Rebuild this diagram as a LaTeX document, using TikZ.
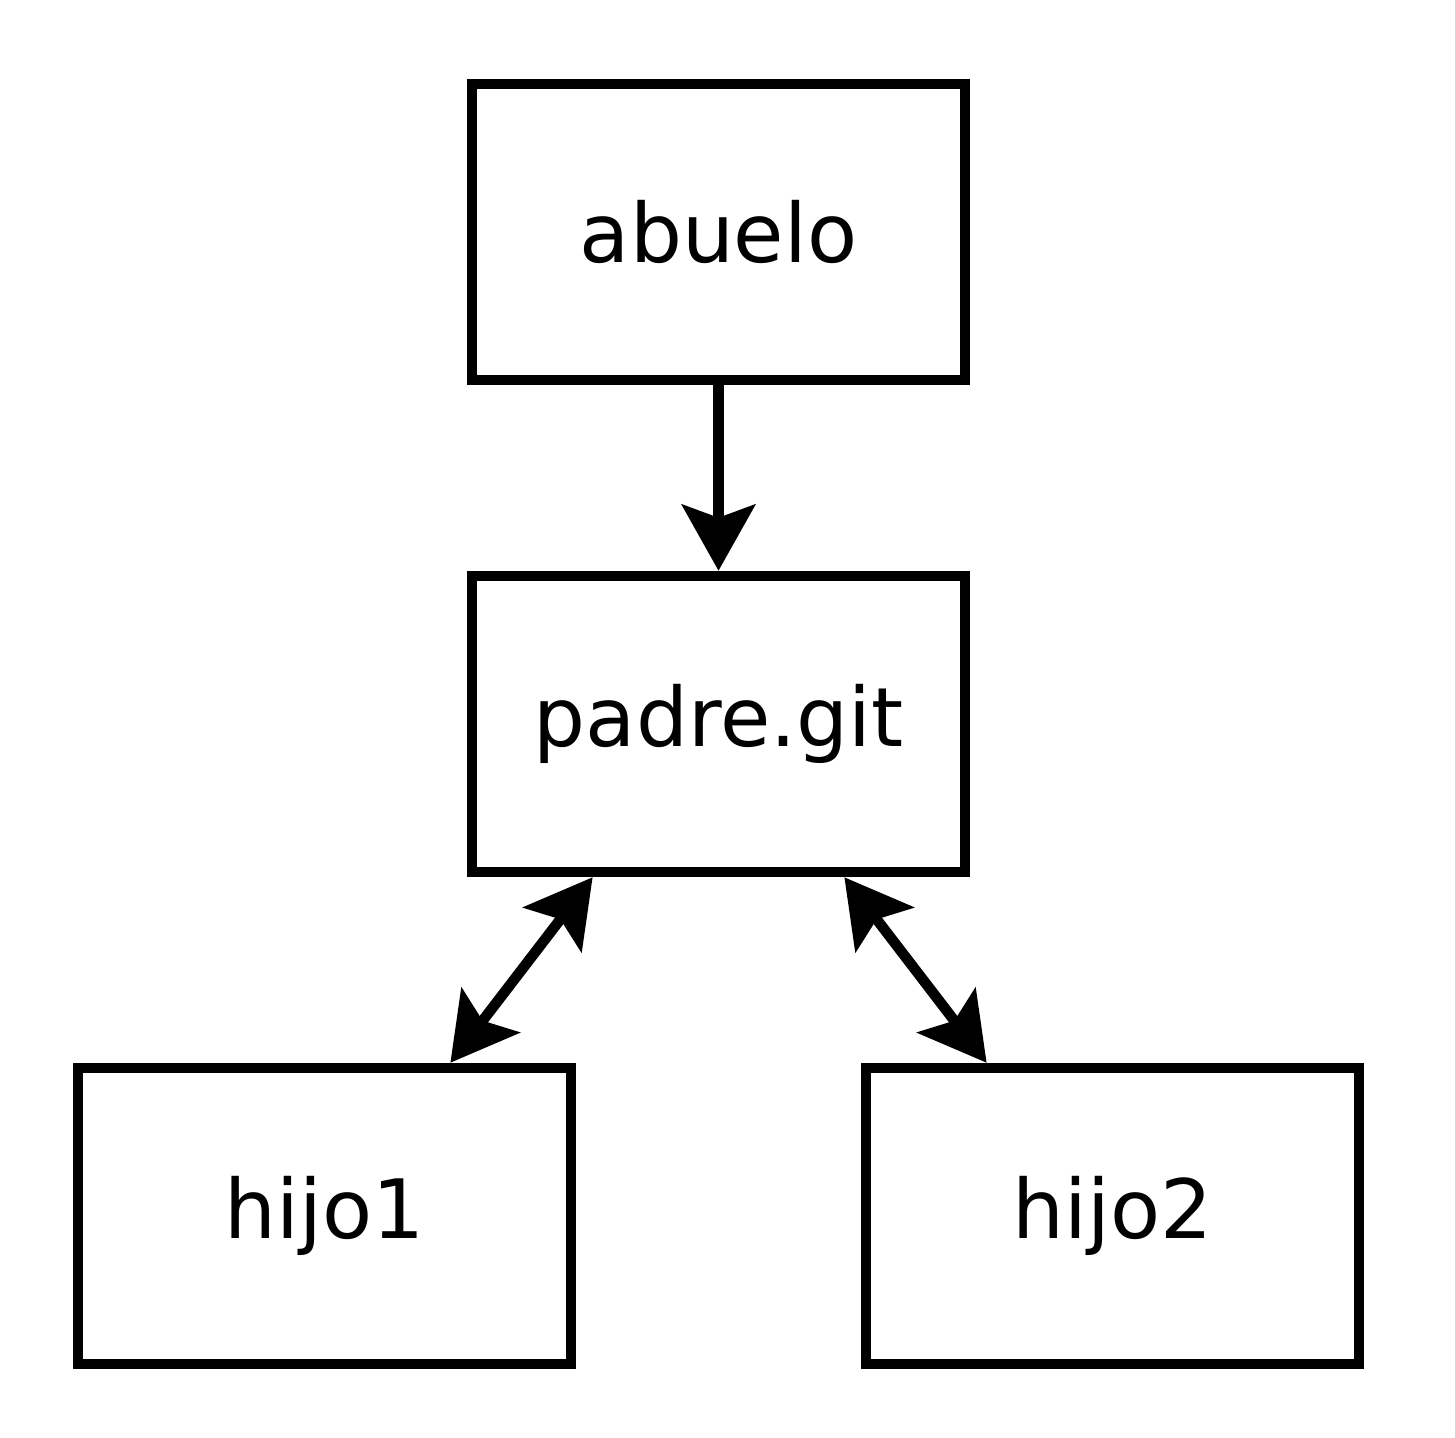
\documentclass[tikz,border=0pt]{standalone}
\usepackage{fontspec}
\setsansfont{DejaVu Sans}
\usetikzlibrary{arrows.meta,positioning,calc}

\begin{document}
\begin{tikzpicture}[>={Stealth[length=0.66cm,width=0.73cm,inset=0.13cm]},
  line width=0.105cm,node distance=4.92cm and 3.94cm,on grid,
  repo node/.style={rectangle,draw,minimum width=4.93cm,minimum height=2.96cm,
    font=\sffamily\fontsize{23.3}{28}\selectfont}]

 \useasboundingbox (0,0) rectangle (14.55,-14.38);

 \node[repo node] (abuelo) at (7.185,-2.32) {abuelo};
 \node[repo node] (padre) [below=of abuelo] {padre.git};
 \node[repo node] (hijo1) [below left=of padre] {hijo1};
 \node[repo node] (hijo2) [below right=of padre] {hijo2};

 \path
    (abuelo)	edge [->] (padre)
    ($(padre.south west)!.25!(padre.south east)$)	edge [<->] ($(hijo1.north west)!.75!(hijo1.north east)$)
    ($(padre.south west)!.75!(padre.south east)$)	edge [<->] ($(hijo2.north west)!.25!(hijo2.north east)$);

\end{tikzpicture}
\end{document}
